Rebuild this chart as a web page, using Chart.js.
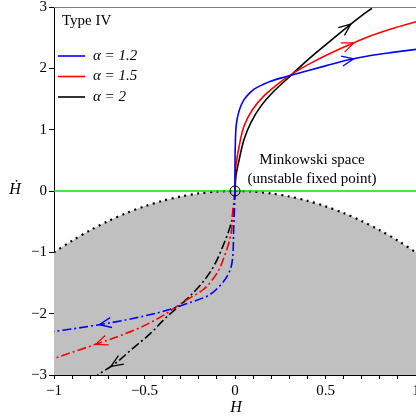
<!DOCTYPE html>
<html lang="en">
<head>
<meta charset="UTF-8">
<title>Type IV phase portrait</title>
<script src="https://cdn.jsdelivr.net/npm/chart.js@4.4.0/dist/chart.umd.min.js"></script>
<style>
  html, body { margin: 0; padding: 0; background: #fff; }
  #wrap { width: 416px; height: 417px; position: relative; }
</style>
</head>
<body>
<div id="wrap"><canvas id="myChart" width="416" height="417"></canvas></div>
<script>
// boundary of the forbidden (grey) region
var boundH = [-1, -0.9, -0.8, -0.7, -0.6, -0.5, -0.4, -0.3, -0.2, -0.1, 0, 0.1, 0.2, 0.3, 0.4, 0.5, 0.6, 0.7, 0.8, 0.9, 1];
var boundY = [-1, -0.81, -0.64, -0.49, -0.36, -0.25, -0.16, -0.09, -0.04, -0.01, 0, -0.01, -0.04, -0.09, -0.16, -0.25, -0.36, -0.49, -0.64, -0.81, -1];

// alpha = 1.2 (blue)
var blueUpH = [0, 0, 0.002, 0.006, 0.015, 0.03, 0.05, 0.075, 0.106, 0.15, 0.197, 0.29, 0.4, 0.5, 0.628, 0.75, 0.87, 1.0];
var blueUpY = [0, 0.4, 0.79, 1.05, 1.22, 1.37, 1.49, 1.58, 1.66, 1.73, 1.79, 1.87, 1.96, 2.04, 2.14, 2.21, 2.26, 2.31];
var blueLoH = [0, -0.004, -0.008, -0.012, -0.03, -0.085, -0.158, -0.25, -0.42, -0.6, -0.75, -0.88, -1.0];
var blueLoY = [0, -0.35, -0.68, -1.06, -1.31, -1.55, -1.72, -1.82, -1.98, -2.1, -2.18, -2.24, -2.29];

// alpha = 1.5 (red)
var redUpH = [0, 0.003, 0.023, 0.05, 0.097, 0.16, 0.234, 0.326, 0.435, 0.53, 0.628, 0.75, 0.87, 1.0];
var redUpY = [0, 0.35, 0.73, 1.06, 1.33, 1.55, 1.74, 1.93, 2.11, 2.25, 2.38, 2.53, 2.65, 2.76];
var redLoH = [0, -0.005, -0.012, -0.021, -0.058, -0.104, -0.177, -0.28, -0.42, -0.55, -0.77, -0.9, -1.0];
var redLoY = [0, -0.15, -0.3, -0.68, -1.06, -1.36, -1.61, -1.8, -2.07, -2.26, -2.5, -2.63, -2.73];

// alpha = 2 (black)
var blackUpH = [0, 0.005, 0.023, 0.05, 0.087, 0.142, 0.216, 0.3, 0.38, 0.45, 0.54, 0.635, 0.7, 0.757];
var blackUpY = [0, 0.24, 0.51, 0.84, 1.11, 1.38, 1.63, 1.86, 2.08, 2.26, 2.48, 2.71, 2.86, 2.98];
var blackLoH = [0, -0.005, -0.021, -0.067, -0.122, -0.196, -0.28, -0.38, -0.47, -0.57, -0.67, -0.76];
var blackLoY = [0, -0.2, -0.52, -0.9, -1.25, -1.55, -1.8, -2.06, -2.33, -2.58, -2.83, -3.0];

var legendLabels = ['\u03b1 = 1.2', '\u03b1 = 1.5', '\u03b1 = 2'];
var legendColors = ['#0000ff', '#ff0000', '#000000'];

var serif = "'Liberation Serif', 'Times New Roman', 'DejaVu Serif', serif";

function pts(xs, ys) {
  return xs.map(function (x, i) { return { x: x, y: ys[i] }; });
}

// trajectories are smooth in H-dot, so interpolate along the y axis
function curve(xs, ys, color, dashed, arrowAt) {
  return {
    data: pts(xs, ys),
    indexAxis: 'y',
    borderColor: color,
    borderWidth: 1.6,
    borderDash: dashed ? [9, 3, 2, 3] : [],
    pointRadius: 0,
    cubicInterpolationMode: 'monotone',
    fill: false,
    arrowAt: arrowAt,
    order: 2
  };
}

// draws the open arrow heads, legend and annotations
var extras = {
  id: 'extras',
  afterDatasetsDraw: function (chart) {
    var ctx = chart.ctx;
    var xs = chart.scales.x, ys = chart.scales.y;
    chart.data.datasets.forEach(function (ds) {
      if (ds.arrowAt === undefined) return;
      var d = ds.data;
      for (var i = 0; i < d.length - 1; i++) {
        var a = d[i], b = d[i + 1];
        var lo = Math.min(a.x, b.x), hi = Math.max(a.x, b.x);
        if (ds.arrowAt >= lo && ds.arrowAt <= hi && hi > lo) {
          var t = (ds.arrowAt - a.x) / (b.x - a.x);
          var px = xs.getPixelForValue(a.x + t * (b.x - a.x));
          var py = ys.getPixelForValue(a.y + t * (b.y - a.y));
          var dx = xs.getPixelForValue(b.x) - xs.getPixelForValue(a.x);
          var dy = ys.getPixelForValue(b.y) - ys.getPixelForValue(a.y);
          var len = Math.sqrt(dx * dx + dy * dy);
          dx /= len; dy /= len;
          var L = 12, W = 5;
          ctx.save();
          ctx.strokeStyle = ds.borderColor;
          ctx.lineWidth = 1.3;
          ctx.beginPath();
          ctx.moveTo(px - L * dx - W * dy, py - L * dy + W * dx);
          ctx.lineTo(px, py);
          ctx.lineTo(px - L * dx + W * dy, py - L * dy - W * dx);
          ctx.stroke();
          ctx.restore();
          break;
        }
      }
    });
  },
  afterDraw: function (chart) {
    var ctx = chart.ctx;
    var area = chart.chartArea;
    ctx.save();
    // top frame line
    ctx.strokeStyle = '#808080';
    ctx.lineWidth = 1;
    ctx.beginPath();
    ctx.moveTo(area.left, area.top + 0.5);
    ctx.lineTo(area.right, area.top + 0.5);
    ctx.stroke();

    ctx.fillStyle = '#000';
    ctx.textBaseline = 'middle';
    ctx.textAlign = 'left';
    ctx.font = '15px ' + serif;
    ctx.fillText('Type IV', 62, 21);

    for (var i = 0; i < legendLabels.length; i++) {
      var y = 56 + i * 20.5;
      ctx.strokeStyle = legendColors[i];
      ctx.lineWidth = 1.6;
      ctx.beginPath();
      ctx.moveTo(58, y);
      ctx.lineTo(85, y);
      ctx.stroke();
      ctx.fillStyle = '#000';
      ctx.font = 'italic 15px ' + serif;
      ctx.fillText(legendLabels[i], 93, y);
    }

    ctx.textAlign = 'center';
    ctx.font = '15px ' + serif;
    ctx.fillText('Minkowski space', 312, 160);
    ctx.fillText('(unstable fixed point)', 312, 179);

    ctx.font = 'italic 16px ' + serif;
    ctx.fillText('H', 236, 408);
    ctx.fillText('\u1e22', 15, 190);
    ctx.restore();
  }
};

var minus = function (v) { return String(v).replace('-', '\u2212'); };

var ctx = document.getElementById('myChart').getContext('2d');
var chart = new Chart(ctx, {
  type: 'line',
  data: {
    datasets: [
      {
        data: pts(boundH, boundY),
        borderColor: '#000',
        borderWidth: 2.2,
        borderDash: [2, 4.5],
        backgroundColor: '#c0c0c0',
        fill: 'start',
        pointRadius: 0,
        tension: 0.3,
        order: 6
      },
      {
        data: [{ x: -1, y: 0 }, { x: 1, y: 0 }],
        borderColor: 'rgb(0,225,0)',
        borderWidth: 1.6,
        pointRadius: 0,
        fill: false,
        order: 5
      },
      curve(blueLoH, blueLoY, '#0000ff', true, -0.75),
      curve(redLoH, redLoY, '#ff0000', true, -0.77),
      curve(blackLoH, blackLoY, '#000000', true, -0.685),
      curve(blueUpH, blueUpY, '#0000ff', false, 0.656),
      curve(redUpH, redUpY, '#ff0000', false, 0.656),
      curve(blackUpH, blackUpY, '#000000', false, 0.64),
      {
        data: [{ x: 0, y: 0 }],
        showLine: false,
        pointRadius: 5,
        pointBorderWidth: 1,
        pointBorderColor: '#000',
        pointBackgroundColor: 'rgba(0,0,0,0)',
        order: 0
      }
    ]
  },
  options: {
    responsive: false,
    animation: false,
    events: [],
    layout: { autoPadding: false, padding: { top: 7, right: 0, left: 0, bottom: 0 } },
    plugins: {
      legend: { display: false },
      tooltip: { enabled: false }
    },
    scales: {
      x: {
        type: 'linear',
        min: -1,
        max: 1,
        afterFit: function (s) { s.height = 42; s.paddingLeft = 0; s.paddingRight = 0; },
        ticks: {
          stepSize: 0.1,
          autoSkip: false,
          maxRotation: 0,
          padding: 3,
          color: '#000',
          font: { family: serif, size: 15 },
          callback: function (v) {
            var r = Math.round(v * 2) / 2;
            if (Math.abs(v - r) > 1e-6) return '';
            return minus(r);
          }
        },
        grid: { drawOnChartArea: false, drawTicks: true, tickLength: 4, color: '#000' },
        border: { color: '#000', width: 1 }
      },
      y: {
        type: 'linear',
        min: -3,
        max: 3,
        afterFit: function (s) { s.width = 54; s.paddingTop = 0; s.paddingBottom = 0; },
        ticks: {
          stepSize: 1,
          padding: 2,
          color: '#000',
          font: { family: serif, size: 15 },
          callback: function (v) { return minus(v); }
        },
        grid: { drawOnChartArea: false, drawTicks: true, tickLength: 5, color: '#000' },
        border: { color: '#000', width: 1 }
      }
    }
  },
  plugins: [extras]
});
</script>
</body>
</html>
